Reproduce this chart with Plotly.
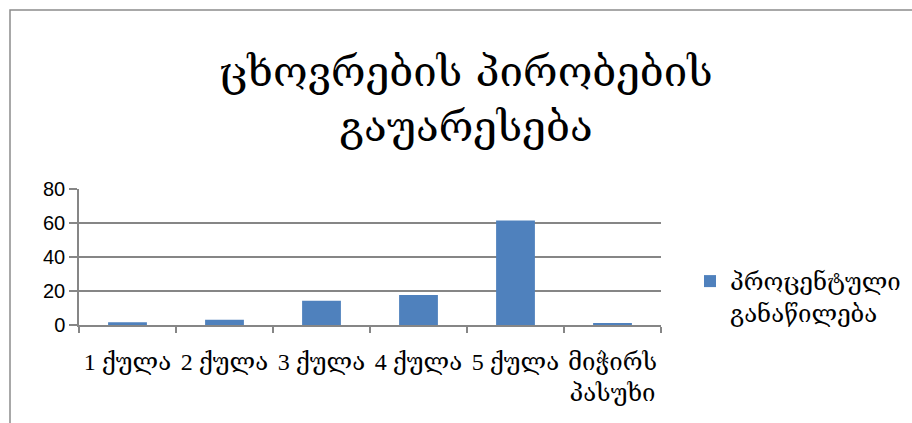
import plotly.graph_objects as go

categories = ["1 ქულა", "2 ქულა", "3 ქულა", "4 ქულა", "5 ქულა", "მიჭირს<br>პასუხი"]
values = [1.6, 3.1, 14.3, 17.6, 61.4, 0.8]
series_name = "პროცენტული<br>განაწილება"
title_text = "ცხოვრების პირობების<br>გაუარესება"
y_ticks = [0, 20, 40, 60, 80]

W, H = 912, 423
L, R, T, B = 79, 251, 189, 98
pw = W - L - R
ph = H - T - B

geo = "DejaVu Serif"
serif = "Liberation Serif, DejaVu Serif"

fig = go.Figure()
fig.add_trace(go.Bar(
    x=categories, y=values, name=series_name,
    marker=dict(color="#4F81BD", line=dict(width=0)),
    width=0.4,
))

def px_x(x):
    return (x - L) / pw

def px_y(y):
    return (H - B - y) / ph

fig.update_layout(
    width=W, height=H,
    margin=dict(l=L, r=R, t=T, b=B, autoexpand=False),
    paper_bgcolor="white", plot_bgcolor="white",
    showlegend=True,
    legend=dict(
        x=px_x(690), y=px_y(297), xanchor="left", yanchor="middle",
        font=dict(family=geo, size=24, color="#000"),
        itemwidth=30, valign="top",
    ),
    annotations=[dict(
        text=title_text, xref="paper", yref="paper",
        x=px_x(466), y=px_y(99), xanchor="center", yanchor="middle",
        showarrow=False, font=dict(family=geo, size=42, color="#000"),
    )],
    shapes=[dict(
        type="rect", xref="paper", yref="paper",
        x0=px_x(10), y0=px_y(430), x1=px_x(930), y1=px_y(10),
        line=dict(color="#8c8c8c", width=1.5), fillcolor="rgba(0,0,0,0)",
        layer="below",
    )],
    xaxis=dict(
        tickson="boundaries", ticks="outside", ticklen=6, tickcolor="#868686",
        tickwidth=1.5, tickangle=0, automargin=False,
        showline=True, linecolor="#868686", linewidth=1.5,
        tickfont=dict(family=serif, size=24, color="#000"),
        ticklabelstandoff=14,
        showgrid=False,
    ),
    yaxis=dict(
        range=[0, 80], tickvals=y_ticks, ticks="outside", ticklen=8,
        tickcolor="#868686", tickwidth=1.5, automargin=False,
        showline=True, linecolor="#868686", linewidth=1.5,
        showgrid=True, gridcolor="#868686", gridwidth=1.5,
        tickfont=dict(family="Liberation Sans, Open Sans", size=20, color="#000"),
        zeroline=False,
    ),
)

fig.write_html("out.html", config={"displayModeBar": False},
               post_script="document.body.style.margin='0';document.body.style.padding='0';")
